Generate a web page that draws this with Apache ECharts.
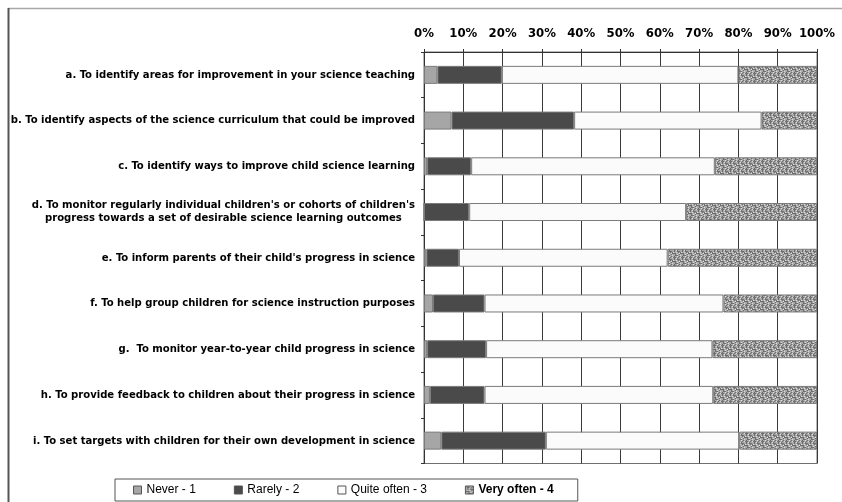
<!DOCTYPE html>
<html>
<head>
<meta charset="utf-8">
<script src="https://cdn.jsdelivr.net/npm/echarts@6/dist/echarts.min.js"></script>
<style>
html,body{margin:0;padding:0;background:#fff;}
#chart{width:842px;height:502px;}
</style>
</head>
<body>
<div id="chart"></div>
<script>
const categories = [
  "a. To identify areas for improvement in your science teaching",
  "b. To identify aspects of the science curriculum that could be improved",
  "c. To identify ways to improve child science learning",
  "d. To monitor regularly individual children's or cohorts of children's\nprogress towards a set of desirable science learning outcomes",
  "e. To inform parents of their child's progress in science",
  "f. To help group children for science instruction purposes",
  "g.  To monitor year-to-year child progress in science",
  "h. To provide feedback to children about their progress in science",
  "i. To set targets with children for their own development in science"
];
const seriesNames = ["Never - 1", "Rarely - 2", "Quite often - 3", "Very often - 4"];
const never      = [3.4, 7.0, 0.8, 0.0, 0.6, 2.3, 0.8, 1.5, 4.4];
const rarely     = [16.4, 31.2, 11.2, 11.5, 8.3, 13.1, 15.0, 13.9, 26.6];
const quiteOften = [60.2, 47.7, 62.0, 55.2, 53.1, 60.8, 57.6, 58.2, 49.2];
const veryOften  = [20.0, 14.1, 26.0, 33.3, 38.0, 23.8, 26.6, 26.4, 19.8];
const tickValues = [0, 10, 20, 30, 40, 50, 60, 70, 80, 90, 100];

// texture for "Very often"
const pat = document.createElement('canvas');
pat.width = 8; pat.height = 8;
const pctx = pat.getContext('2d');
const rows = [
  "mmdmmlmd",
  "ldddmmdm",
  "mmdmldmm",
  "mmdmmddd",
  "dlmmlmdm",
  "ddddmmml",
  "mmmdmlmd",
  "lmmdddmm"
];
const pc = {d:'#6e6e6e', m:'#a9a9a9', l:'#dcdcdc'};
rows.forEach((r, y) => { for (let x = 0; x < 8; x++) { pctx.fillStyle = pc[r[x]]; pctx.fillRect(x, y, 1, 1); } });

const colors = ['#a6a6a6', '#4a4a4a', '#fbfbfb', {image: pat, repeat: 'repeat'}];
const values = [never, rarely, quiteOften, veryOften];
const narrow = "'Liberation Sans Narrow', 'Arial Narrow', 'DejaVu Sans Condensed', sans-serif";

const chart = echarts.init(document.getElementById('chart'), null, {renderer: 'canvas'});
chart.setOption({
  animation: false,
  backgroundColor: '#fff',
  grid: {left: 424, right: 25, top: 52, bottom: 38.5, show: true, borderColor: '#707070', borderWidth: 1,
         containLabel: false, outerBoundsMode: 'none'},
  xAxis: {
    type: 'value', position: 'top', min: 0, max: 100, interval: 10,
    axisLabel: {formatter: v => tickValues.includes(v) ? v + '%' : '', fontFamily: narrow, fontWeight: 'bold', fontSize: 13, color: '#000', margin: 12},
    axisLine: {show: true, lineStyle: {color: '#333'}},
    axisTick: {show: true, length: 3, lineStyle: {color: '#333'}},
    splitLine: {show: true, lineStyle: {color: '#3a3a3a', width: 1}}
  },
  yAxis: {
    type: 'category', inverse: true, data: categories,
    axisLine: {show: true, lineStyle: {color: '#333'}},
    axisTick: {show: true, length: 3, lineStyle: {color: '#333'}},
    axisLabel: {
      fontFamily: narrow, fontWeight: 'bold', fontSize: 11.2, color: '#000', margin: 9, lineHeight: 13,
      formatter: v => v.split('\n').map(s => '{c|' + s + '}').join('\n'),
      rich: {c: {align: 'center', fontFamily: narrow, fontWeight: 'bold', fontSize: 11.2, color: '#000', lineHeight: 13}}
    }
  },
  legend: {
    left: 115, top: 479, orient: 'horizontal',
    icon: 'rect', itemWidth: 8, itemHeight: 8, itemGap: 38,
    padding: [5, 24, 5, 18],
    borderColor: '#555', borderWidth: 1,
    itemStyle: {borderColor: '#555', borderWidth: 1},
    textStyle: {fontFamily: "'Liberation Sans', Arial, sans-serif", fontSize: 12, color: '#000'},
    data: [
      {name: seriesNames[0]},
      {name: seriesNames[1]},
      {name: seriesNames[2]},
      {name: seriesNames[3], textStyle: {fontWeight: 'bold'}}
    ]
  },
  graphic: [
    {type: 'line', shape: {x1: 8, y1: 8.5, x2: 842, y2: 8.5}, style: {stroke: '#a8a8a8', lineWidth: 1.5}, silent: true},
    {type: 'line', shape: {x1: 8.5, y1: 8, x2: 8.5, y2: 502}, style: {stroke: '#555', lineWidth: 2}, silent: true}
  ],
  series: seriesNames.map((n, i) => ({
    name: n, type: 'bar', stack: 'total', barWidth: 18,
    data: values[i],
    itemStyle: {color: colors[i], borderColor: '#7a7a7a', borderWidth: 1}
  }))
});
</script>
</body>
</html>
